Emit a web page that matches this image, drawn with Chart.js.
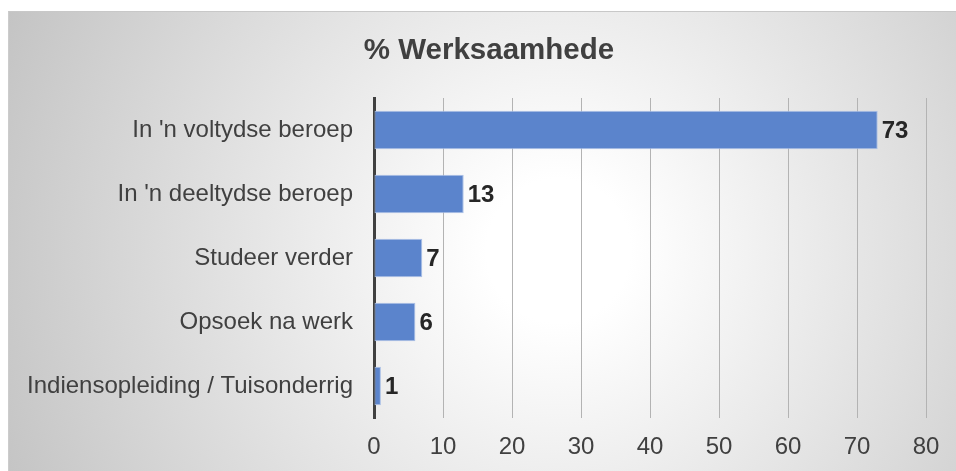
<!DOCTYPE html>
<html>
<head>
<meta charset="utf-8">
<script src="https://cdn.jsdelivr.net/npm/chart.js@4/dist/chart.umd.min.js"></script>
<style>
  html, body { margin: 0; padding: 0; background: #ffffff; }
  #wrap { position: relative; width: 956px; height: 471px; overflow: hidden; }
  #bg {
    position: absolute; left: 8px; top: 11px; right: 0; bottom: 0;
    border-top: 1px solid #c8c8c8; border-left: 1px solid #cccccc;
    background: radial-gradient(circle farthest-corner at 58% 52%, #ffffff 0%, #ffffff 12%, #c4c4c4 100%);
  }
  #c { position: absolute; left: 0; top: 0; }
</style>
</head>
<body>
<div id="wrap">
  <div id="bg"></div>
  <canvas id="c" width="956" height="471"></canvas>
</div>
<script>
const titleText = "% Werksaamhede";
const categories = [
  "In 'n voltydse beroep",
  "In 'n deeltydse beroep",
  "Studeer verder",
  "Opsoek na werk",
  "Indiensopleiding / Tuisonderrig"
];
const values = [73, 13, 7, 6, 1];
const axisMin = 0;
const axisMax = 80;
const axisStep = 10;

const FONT = '"Liberation Sans", Arial, sans-serif';

const dataLabels = {
  id: 'dataLabels',
  afterDatasetsDraw(chart) {
    const ctx = chart.ctx;
    const meta = chart.getDatasetMeta(0);
    ctx.save();
    ctx.font = 'bold 24px ' + FONT;
    ctx.fillStyle = '#262626';
    ctx.textAlign = 'left';
    ctx.textBaseline = 'middle';
    meta.data.forEach((bar, i) => {
      ctx.fillText(String(values[i]), bar.x + 4, bar.y + 1);
    });
    ctx.restore();
  }
};

const chartTitle = {
  id: 'chartTitle',
  afterDraw(chart) {
    const ctx = chart.ctx;
    ctx.save();
    ctx.font = 'bold 29.5px ' + FONT;
    ctx.fillStyle = '#404040';
    ctx.textAlign = 'center';
    ctx.textBaseline = 'alphabetic';
    ctx.fillText(titleText, 489, 58.5);
    ctx.restore();
  }
};

new Chart(document.getElementById('c'), {
  type: 'bar',
  data: {
    labels: categories,
    datasets: [{
      data: values,
      backgroundColor: '#5b84cc',
      borderColor: '#a9bfe6',
      borderWidth: 1,
      borderSkipped: false,
      barPercentage: 0.6,
      categoryPercentage: 1.0
    }]
  },
  options: {
    indexAxis: 'y',
    responsive: false,
    animation: false,
    devicePixelRatio: 1,
    layout: { padding: { left: 0, right: 30, top: 98, bottom: 0 } },
    plugins: {
      legend: { display: false },
      tooltip: { enabled: false },
      title: { display: false }
    },
    scales: {
      x: {
        type: 'linear',
        min: axisMin,
        max: axisMax,
        ticks: {
          stepSize: axisStep,
          color: '#404040',
          font: { family: FONT, size: 24 },
          padding: 15
        },
        grid: { display: true, color: '#b3b3b3', lineWidth: 1, drawTicks: false },
        border: { display: false },
        afterFit(scale) { scale.height = 53; }
      },
      y: {
        ticks: {
          color: '#404040',
          font: { family: FONT, size: 24 },
          padding: 21
        },
        grid: { display: true, color: 'rgba(0,0,0,0)', drawTicks: false },
        border: { display: true, color: '#404040', width: 3 },
        afterFit(scale) { scale.width = 374; }
      }
    }
  },
  plugins: [dataLabels, chartTitle]
});
</script>
</body>
</html>
